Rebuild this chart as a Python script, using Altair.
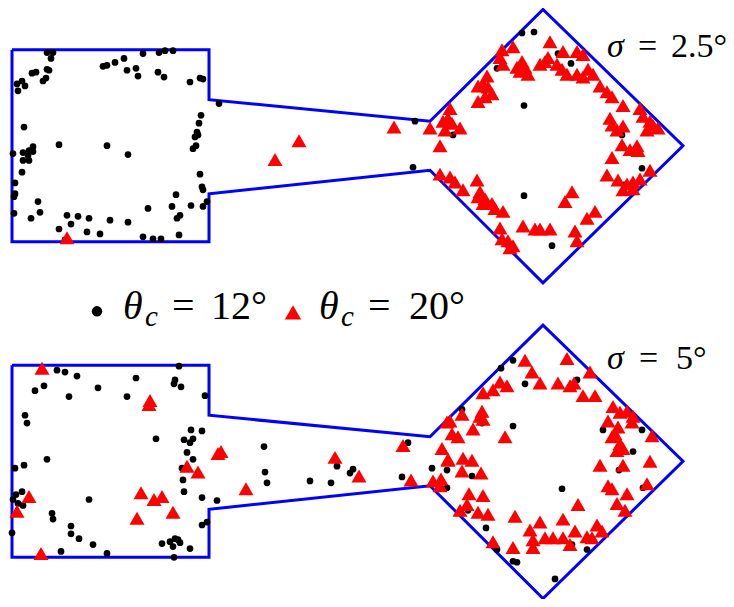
import altair as alt
import pandas as pd

# ---- geometry of the channel outline (panel-local coordinates, y downward)
outline_x = [12, 209, 209, 430, 543, 683, 543, 430, 209, 209, 12, 12]
outline_y = [45, 45, 96, 118, 4, 143, 283, 168, 192, 241, 241, 45]
panel_offsets = [0, 322]

# ---- top panel (sigma = 2.5 deg)
top_dots = [
    (47,48),(53,48),(51,54),(143,49),(159,48),(165,46),(173,46),(103,62),(107,61),(115,58),
    (124,54),(127,66),(136,64),(138,72),(158,68),(164,73),(47,65),(49,66),(32,69),(36,68),
    (43,77),(46,74),(17,80),(22,77),(25,82),(18,87),(190,78),(200,74),(203,75),(219,100),
    (201,112),(199,120),(197,129),(198,132),(195,134),(196,143),(193,146),(24,124),(59,142),
    (107,143),(128,152),(33,144),(29,148),(23,150),(33,149),(28,153),(23,158),(29,158),
    (13,151),(22,170),(15,181),(15,192),(14,195),(200,172),(202,185),(203,188),(176,193),
    (207,200),(203,205),(191,204),(172,205),(148,207),(180,214),(177,217),(38,200),(40,211),
    (31,217),(14,212),(67,214),(78,215),(89,217),(71,223),(59,228),(110,219),(128,221),
    (87,231),(100,233),(143,236),(153,238),(161,238),(179,234),(65,239),
    (415,118),(413,165),(522,28),(534,27),(558,49),(571,59),(497,64),(524,102),(453,132),
    (622,132),(642,166),(624,183),(524,194),(552,245),
]
top_tris = [
    (67,237),(275,157),(299,138),(394,124),(430,125),(440,143),
    (550,37),(502,45),(513,42),(548,53),(545,57),(540,60),(563,47),(577,47),(583,50),(557,60),
    (562,65),(567,70),(522,57),(525,63),(520,67),(528,70),(517,63),(500,53),(503,60),(577,70),
    (583,73),(588,65),(593,70),(487,72),(483,80),(478,82),(488,83),(492,90),(485,93),(478,98),
    (600,82),(607,88),(612,93),(623,102),(450,105),(448,115),(443,118),(452,120),(445,127),
    (460,125),(610,115),(612,122),(617,127),(623,123),(640,105),(643,113),(650,118),(647,127),
    (653,122),(658,125),(637,143),
    (622,142),(630,147),(638,148),(612,155),(607,173),(618,178),(627,182),(633,180),(640,177),
    (650,168),(623,188),(633,187),(440,172),(450,175),(455,180),(463,188),(477,178),(480,190),
    (478,195),(485,197),(483,202),(492,202),(495,207),(503,210),(500,227),(502,238),(508,240),
    (513,245),(510,247),(523,225),(535,228),(540,228),(550,228),(572,190),(565,200),(587,217),
    (595,210),(575,230),(577,240),
]

# ---- bottom panel (sigma = 5 deg)
bot_dots = [
    (57,372),(65,374),(77,378),(35,393),(44,388),(69,399),(98,390),(136,380),(127,399),
    (179,368),(175,382),(174,386),(181,389),(205,398),(25,418),(27,426),(156,442),(191,433),
    (202,434),(184,443),(193,442),(190,446),(187,456),(193,463),(182,472),(183,484),(184,496),
    (202,502),(217,505),(47,463),(24,469),(15,472),(22,496),(16,499),(13,504),(18,508),
    (23,510),(89,504),(52,518),(53,524),(12,538),(71,531),(71,539),(79,544),(93,550),(61,557),
    (107,559),(162,549),(170,547),(173,552),(178,545),(180,548),(175,544),(190,554),(202,530),
    (207,527),(174,563),
    (264,450),(265,476),(267,487),(310,485),(331,487),(337,470),(350,477),(353,473),(408,446),
    (402,481),(432,472),(447,474),(447,492),
    (513,362),(501,370),(525,386),(577,382),(462,412),(482,426),(513,429),(603,433),(642,433),
    (633,455),(472,480),(562,493),(619,474),(643,492),(468,515),(486,533),(497,555),(513,567),
    (517,568),(572,550),(587,555),(555,585),
]
bot_tris = [
    (42,370),(150,403),(149,407),(218,457),(187,470),(198,476),(29,501),(17,516),(141,497),
    (154,504),(162,501),(173,517),(137,523),(41,559),
    (221,455),(246,493),(335,461),(359,480),(403,449),(411,484),(433,485),(441,483),(440,490),
    (447,425),(442,452),(448,463),
    (525,362),(567,360),(590,374),(532,374),(540,385),(558,385),(570,388),(574,385),(500,384),
    (507,388),(493,392),(483,395),(583,398),(595,398),(613,409),(627,414),(633,419),(620,415),
    (482,414),(480,419),(483,422),(462,417),(450,424),(473,432),(452,437),(458,440),(505,440),
    (608,424),(618,430),(615,437),(612,440),(632,425),(652,439),(620,447),(623,452),(617,454),
    (448,464),(463,462),(472,464),(600,469),(623,469),(650,465),
    (462,475),(481,477),(608,490),(612,493),(647,488),(469,498),(483,500),(467,509),(460,515),
    (478,517),(488,519),(627,498),(617,508),(625,515),(578,509),(515,521),(540,527),(563,524),
    (530,535),(533,545),(533,553),(545,543),(553,543),(563,543),(570,550),(575,536),(597,530),
    (602,536),(587,542),(592,543),(493,547),(513,553),
]

# ---- legend entries and labels
legend_labels = ["12°", "20°"]
sigma_labels = ["2.5°", "5°"]

# ---------------------------------------------------------------------------
rows = []
for p, off in enumerate(panel_offsets):
    for i, (ox, oy) in enumerate(zip(outline_x, outline_y)):
        rows.append({"panel": p, "order": i, "x": ox, "y": oy + off})
outline_df = pd.DataFrame(rows)

dots_df = pd.DataFrame(top_dots + bot_dots, columns=["x", "y"])
tris_df = pd.DataFrame(top_tris + bot_tris, columns=["x", "y"])

xs = alt.Scale(domain=[8, 726], nice=False, zero=False)
ys = alt.Scale(domain=[2.5, 605.5], reverse=True, nice=False, zero=False)
X = alt.X("x:Q", scale=xs, axis=None)
Y = alt.Y("y:Q", scale=ys, axis=None)

FONT = "Liberation Serif"

outline = alt.Chart(outline_df).mark_line(color="#0000ff", strokeWidth=3, strokeJoin="miter").encode(
    x=X, y=Y, order="order:Q", detail="panel:N"
)
dots = alt.Chart(dots_df).mark_circle(color="black", size=45, opacity=1).encode(x=X, y=Y)
tris = alt.Chart(tris_df).mark_point(
    shape="triangle-up", filled=True, color="#ff0000", size=225, opacity=1, strokeWidth=0
).encode(x=X, y=Y)

# legend symbols
leg_dot = alt.Chart(pd.DataFrame({"x": [97], "y": [312]})).mark_circle(
    color="black", size=110, opacity=1).encode(x=X, y=Y)
leg_tri = alt.Chart(pd.DataFrame({"x": [293], "y": [313]})).mark_point(
    shape="triangle-up", filled=True, color="#ff0000", size=270, opacity=1, strokeWidth=0
).encode(x=X, y=Y)

# text pieces
ital = pd.DataFrame([
    {"x": 123, "y": 320, "t": "θ", "s": 40},
    {"x": 145, "y": 327, "t": "c", "s": 29},
    {"x": 319, "y": 320, "t": "θ", "s": 40},
    {"x": 341, "y": 327, "t": "c", "s": 29},
    {"x": 607, "y": 53, "t": "σ", "s": 34},
    {"x": 607, "y": 371, "t": "σ", "s": 34},
])
norm = pd.DataFrame([
    {"x": 172, "y": 320, "t": "=", "s": 40},
    {"x": 211, "y": 320, "t": legend_labels[0], "s": 40},
    {"x": 368, "y": 320, "t": "=", "s": 40},
    {"x": 409, "y": 320, "t": legend_labels[1], "s": 40},
    {"x": 638, "y": 53, "t": "=", "s": 34},
    {"x": 671, "y": 53, "t": sigma_labels[0], "s": 34},
    {"x": 639, "y": 371, "t": "=", "s": 34},
    {"x": 676, "y": 371, "t": sigma_labels[1], "s": 34},
])


def txt(df, style):
    return alt.Chart(df).mark_text(
        align="left", baseline="alphabetic", font=FONT, fontStyle=style, color="black"
    ).encode(x=X, y=Y, text="t:N", size=alt.Size("s:Q", scale=None))


layers = [outline, dots, tris, leg_dot, leg_tri, txt(ital, "italic"), txt(norm, "normal")]

chart = alt.layer(*layers).properties(
    width=718, height=591, autosize=alt.AutoSizeParams(type="none"), padding=0
).configure_view(stroke=None)

chart.save("out.html", embed_options={"renderer": "svg", "actions": False})
